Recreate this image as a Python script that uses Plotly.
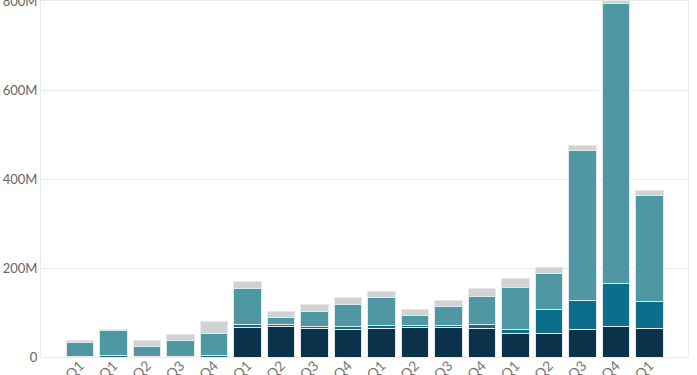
import plotly.graph_objects as go

quarters = ["2018 Q1", "2019 Q1", "2019 Q2", "2019 Q3", "2019 Q4",
            "2020 Q1", "2020 Q2", "2020 Q3", "2020 Q4",
            "2021 Q1", "2021 Q2", "2021 Q3", "2021 Q4",
            "2022 Q1", "2022 Q2", "2022 Q3", "2022 Q4", "2023 Q1"]

# values in millions, stacked bottom to top
series_a = [0, 0, 0, 0, 0, 67, 68, 64, 61, 64, 67, 66, 64, 53, 53, 63, 68, 65]
series_b = [1, 3, 2, 1.5, 4, 6, 5, 4, 7, 7, 5, 4, 9, 8, 55, 64, 98, 60]
series_c = [32, 56, 22, 36, 48, 81, 17, 35, 50, 62, 21, 43, 64, 96, 81, 338, 631, 238]
series_d = [4, 4, 14, 14, 27, 17, 13, 15, 15, 15, 15, 14, 17, 19, 13, 12, 12, 13]

names = ["Series A", "Series B", "Series C", "Series D"]
colors = ["#0b324b", "#0b6f8c", "#4f97a2", "#d2d2d2"]

fig = go.Figure()
for name, vals, col in zip(names, [series_a, series_b, series_c, series_d], colors):
    fig.add_trace(go.Bar(
        x=quarters, y=[v * 1e6 for v in vals], name=name,
        marker=dict(color=col, line=dict(color="#e4e8ea", width=1)),
    ))

fig.update_layout(
    template="none",
    barmode="stack",
    bargap=0.18,
    width=697, height=375,
    margin=dict(l=41, r=9, t=1, b=18),
    showlegend=False,
    paper_bgcolor="white", plot_bgcolor="white",
    font=dict(family="Lato", size=13, color="#666666"),
)
fig.update_xaxes(
    type="category",
    range=[-1.164, 18.15],
    tickangle=-45,
    showgrid=False,
    showline=True, linecolor="#ebebeb", linewidth=1, mirror=True,
    ticks="", automargin=False,
    ticklabeloverflow="allow",
    ticklabelstandoff=-6,
    tickfont=dict(family="Lato", size=14, color="#777777"),
)
fig.update_yaxes(
    range=[0, 802e6],
    tickvals=[0, 200e6, 400e6, 600e6, 800e6],
    tickformat="~s",
    showgrid=True, gridcolor="#ebebeb", gridwidth=1,
    showline=True, linecolor="#ebebeb", linewidth=1, mirror=True,
    zeroline=False,
    ticks="", automargin=False,
    ticklabeloverflow="allow",
    tickfont=dict(family="Lato", size=13, color="#666666"),
)

fig.write_html("out.html")
